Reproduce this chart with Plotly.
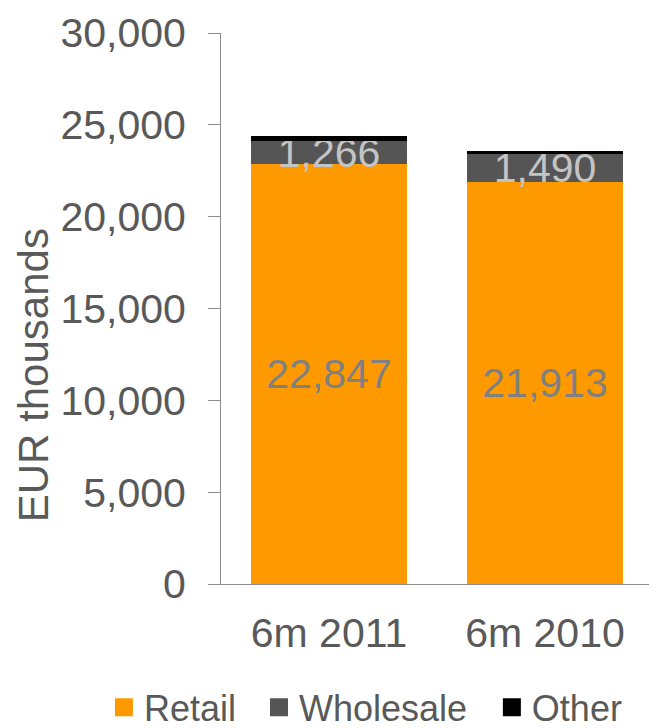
import plotly.graph_objects as go

categories = ["6m 2011", "6m 2010"]
retail = [22847, 21913]
wholesale = [1266, 1490]
other = [290, 180]
retail_labels = ["22,847", "21,913"]
wholesale_labels = ["1,266", "1,490"]
y_ticks = [0, 5000, 10000, 15000, 20000, 25000, 30000]
y_tick_labels = ["0", "5,000", "10,000", "15,000", "20,000", "25,000", "30,000"]
y_title = "EUR thousands"
series_names = ["Retail", "Wholesale", "Other"]
series_colors = ["#FF9900", "#555555", "#000000"]

FONT = "Liberation Sans, Arial, sans-serif"
GREY = "#595959"

fig = go.Figure()
fig.add_trace(go.Bar(
    name="Retail", x=categories, y=retail, marker=dict(color=series_colors[0], line=dict(width=0)),
    text=retail_labels, textposition="inside", insidetextanchor="middle",
    textfont=dict(family=FONT, size=41, color="#808080"), constraintext="none",
    hoverinfo="skip", showlegend=False))
fig.add_trace(go.Bar(
    name="Wholesale", x=categories, y=wholesale, marker=dict(color=series_colors[1], line=dict(width=0)),
    text=wholesale_labels, textposition="inside", insidetextanchor="middle",
    textfont=dict(family=FONT, size=41, color="#C4C4C4"), constraintext="none",
    hoverinfo="skip", showlegend=False))
fig.add_trace(go.Bar(
    name="Other", x=categories, y=other, marker=dict(color=series_colors[2], line=dict(width=0)),
    hoverinfo="skip", showlegend=False))

# legend entries (square swatches), one legend per entry for exact spacing
legend_ids = ["legend", "legend2", "legend3"]
legend_x = [-0.271, 0.088, 0.627]
for name, col, lid in zip(series_names, series_colors, legend_ids):
    fig.add_trace(go.Scatter(
        x=[None], y=[None], mode="markers", name=name,
        marker=dict(symbol="square", size=16, color=col, line=dict(width=2, color=col)),
        showlegend=True, legend=lid, hoverinfo="skip"))

legend_common = dict(orientation="h", y=-0.224, yanchor="middle", xanchor="left",
                     font=dict(family=FONT, size=36, color=GREY),
                     bgcolor="rgba(0,0,0,0)", borderwidth=0)

# page body has an 8px default margin, so the figure is sized/offset to compensate
fig.update_layout(
    barmode="stack", bargap=0.282,
    width=649, height=720,
    margin=dict(l=213, r=4, t=25, b=144, autoexpand=False),
    paper_bgcolor="white", plot_bgcolor="white",
    font=dict(family=FONT, color=GREY),
    showlegend=True,
    legend=dict(x=legend_x[0], **legend_common),
    legend2=dict(x=legend_x[1], **legend_common),
    legend3=dict(x=legend_x[2], **legend_common),
    annotations=[dict(text=y_title, textangle=-90, xref="paper", yref="paper",
                      x=-0.435, y=0.379, xanchor="center", yanchor="middle",
                      showarrow=False, font=dict(family=FONT, size=42, color=GREY))],
)
fig.update_yaxes(
    range=[0, 30000], tickvals=y_ticks, ticktext=y_tick_labels, automargin=False,
    showgrid=False, zeroline=False, showline=True, linecolor="#8C8C8C", linewidth=1,
    ticks="outside", ticklen=12, tickcolor="#8C8C8C", ticklabelstandoff=14,
    tickfont=dict(family=FONT, size=41, color=GREY),
)
fig.update_xaxes(
    showgrid=False, zeroline=False, showline=True, linecolor="#8C8C8C", linewidth=1,
    ticks="", ticklabelstandoff=13, automargin=False,
    tickfont=dict(family=FONT, size=41, color=GREY),
)
fig.write_html("out.html")
